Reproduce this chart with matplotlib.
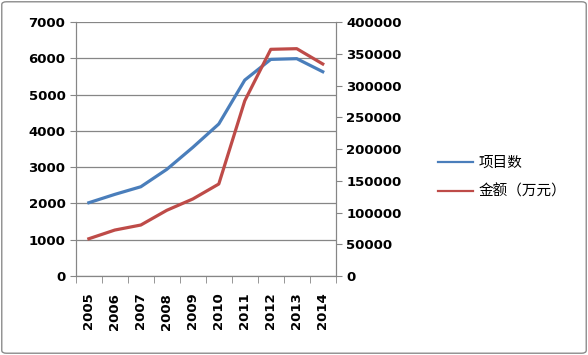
import matplotlib
matplotlib.use("Agg")
import matplotlib.pyplot as plt
from matplotlib.patches import FancyBboxPatch
from matplotlib.lines import Line2D

years = ["2005", "2006", "2007", "2008", "2009", "2010", "2011", "2012", "2013", "2014"]
projects = [2020, 2250, 2460, 2940, 3545, 4190, 5400, 5970, 5990, 5630]
amount = [58700, 72400, 80300, 103500, 121300, 144900, 276000, 357000, 358000, 333900]

plt.rcParams['font.family'] = ['Noto Sans CJK SC', 'DejaVu Sans']

fig = plt.figure(figsize=(5.88, 3.55), dpi=100)
fig.patches.append(FancyBboxPatch((0.003, 0.005), 0.994, 0.99,
                                  boxstyle="round,pad=0,rounding_size=0.008",
                                  transform=fig.transFigure, fill=False,
                                  edgecolor="#8c8c8c", linewidth=1.0))

ax = fig.add_axes([0.129, 0.2225, 0.442, 0.7155])
ax2 = ax.twinx()

x = range(len(years))
ax.plot(x, projects, color="#4A7EBB", lw=2.3)
ax2.plot(x, amount, color="#BE4B48", lw=2.3)

ax.set_ylim(0, 7000)
ax.set_yticks(range(0, 7001, 1000))
ax2.set_ylim(0, 400000)
ax2.set_yticks(range(0, 400001, 50000))
ax.set_xlim(-0.5, 9.5)
ax.set_xticks(list(x))
ax.set_xticklabels(years, rotation=90)
ax.set_xticks([i - 0.5 for i in range(11)], minor=True)
ax.tick_params(axis='x', which='major', length=0, pad=12)
ax.tick_params(axis='x', which='minor', length=5, color="#868686")

ax.grid(axis='y', color="#868686", lw=0.9)
ax.set_axisbelow(True)
for a in (ax, ax2):
    a.spines['top'].set_visible(False)
    for s in ('left', 'right', 'bottom'):
        a.spines[s].set_color("#868686")
    a.tick_params(axis='y', length=4, color="#868686")
    for lab in a.get_xticklabels() + a.get_yticklabels():
        lab.set_fontweight('bold')
        lab.set_fontsize(9.5)
        lab.set_family(['DejaVu Sans'])

handles = [Line2D([], [], color="#4A7EBB", lw=1.6), Line2D([], [], color="#BE4B48", lw=1.6)]
fig.legend(handles, ["项目数", "金额（万元）"], loc='center left',
           bbox_to_anchor=(0.745, 0.50), frameon=False, fontsize=10.5,
           handlelength=2.4, handletextpad=0.35, labelspacing=1.0,
           borderaxespad=0, borderpad=0)

fig.savefig("out.png", dpi=100)
